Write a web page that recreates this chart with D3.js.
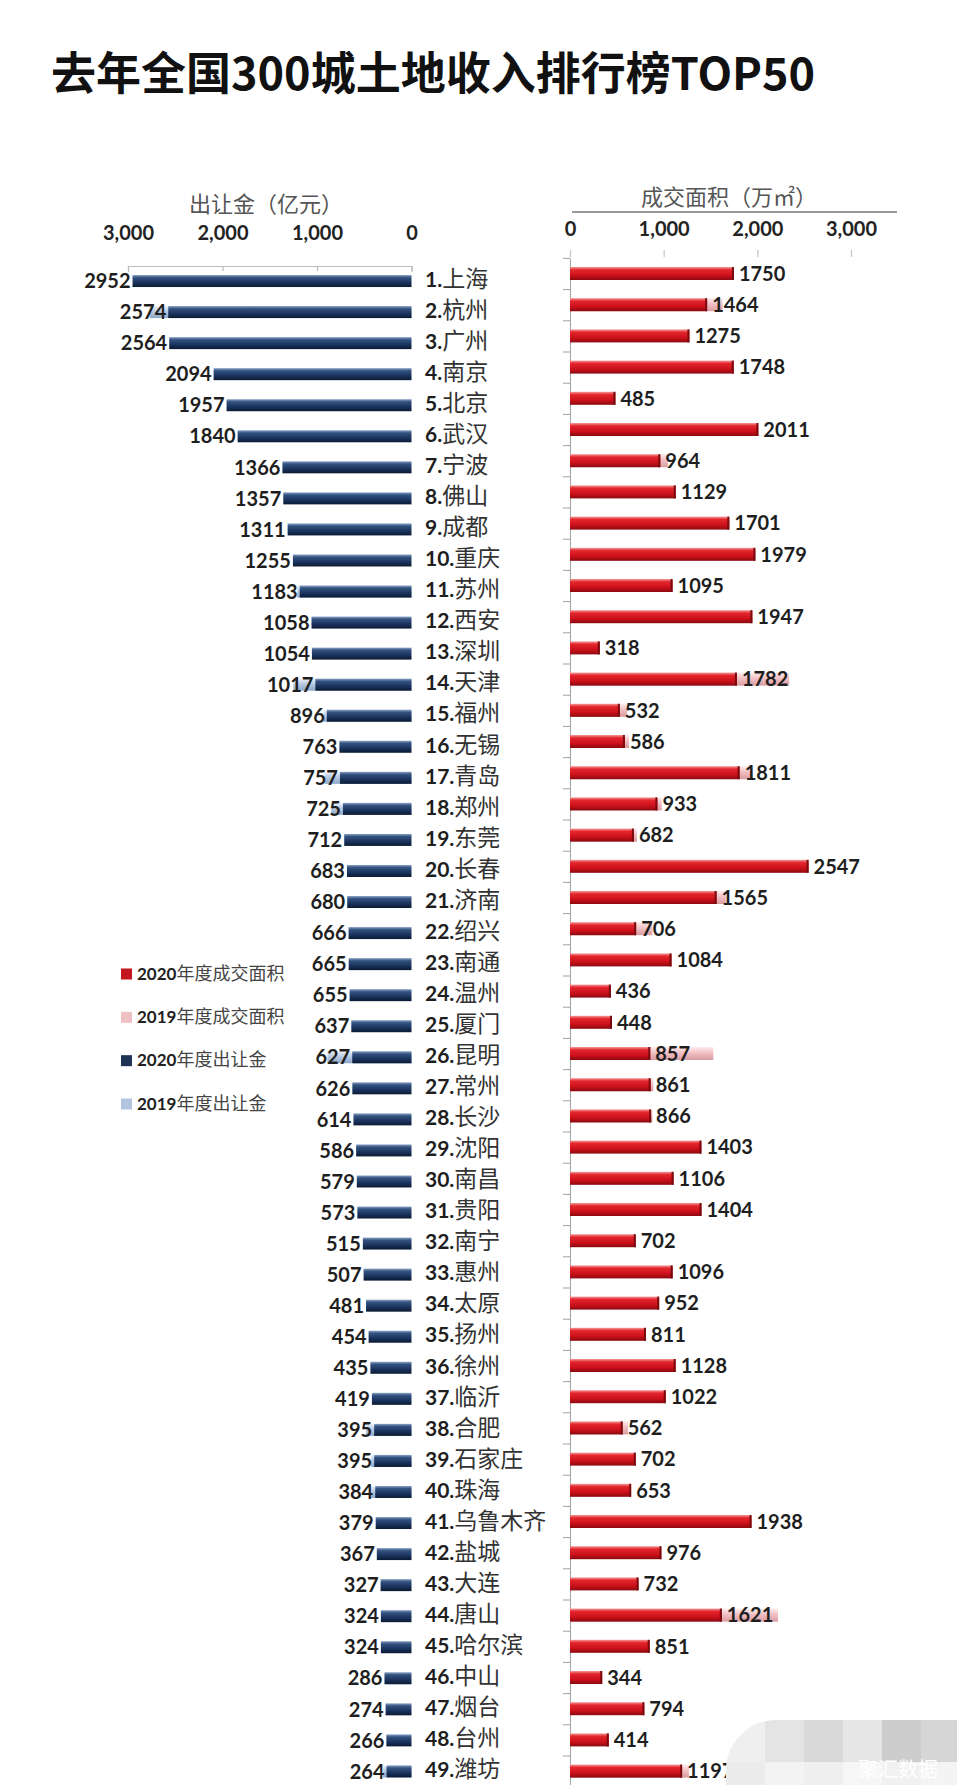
<!DOCTYPE html>
<html>
<head>
<meta charset="utf-8">
<script src="https://cdn.jsdelivr.net/npm/d3@7"></script>
<style>
  html, body { margin: 0; padding: 0; background: #fff; }
  svg { display: block; }
</style>
</head>
<body>
<svg id="chart" width="957" height="1785"></svg>
<script>
// ---------------- DATA ----------------
const cities = ["上海","杭州","广州","南京","北京","武汉","宁波","佛山","成都","重庆",
  "苏州","西安","深圳","天津","福州","无锡","青岛","郑州","东莞","长春",
  "济南","绍兴","南通","温州","厦门","昆明","常州","长沙","沈阳","南昌",
  "贵阳","南宁","惠州","太原","扬州","徐州","临沂","合肥","石家庄","珠海",
  "乌鲁木齐","盐城","大连","唐山","哈尔滨","中山","烟台","台州","潍坊"];

// 出让金 (亿元) 2020
const revenue2020 = [2952,2574,2564,2094,1957,1840,1366,1357,1311,1255,
  1183,1058,1054,1017,896,763,757,725,712,683,
  680,666,665,655,637,627,626,614,586,579,
  573,515,507,481,454,435,419,395,395,384,
  379,367,327,324,324,286,274,266,264];

// 出让金 (亿元) 2019 — only where visible behind the 2020 bar
const revenue2019 = [null,2770,null,null,null,null,null,null,null,null,
  1210,null,null,1250,930,null,920,850,null,null,
  null,null,null,null,null,890,null,null,null,null,
  null,null,null,null,null,null,null,480,430,450,
  null,null,null,null,null,null,null,null,300];

// 成交面积 (万㎡) 2020
const area2020 = [1750,1464,1275,1748,485,2011,964,1129,1701,1979,
  1095,1947,318,1782,532,586,1811,933,682,2547,
  1565,706,1084,436,448,857,861,866,1403,1106,
  1404,702,1096,952,811,1128,1022,562,702,653,
  1938,976,732,1621,851,344,794,414,1197];

// 成交面积 (万㎡) 2019 — only where visible beyond the 2020 bar
const area2019 = [null,1630,null,null,null,null,1045,null,null,null,
  null,null,null,2340,610,630,1950,980,715,null,
  1670,880,null,null,null,1530,890,880,null,null,
  null,null,null,null,null,null,null,620,null,null,
  null,null,null,2220,null,null,null,null,1270];

const axisTicks = [0, 1000, 2000, 3000];
const legendLabels = [
  {num: "2020", txt: "年度成交面积", key: "red"},
  {num: "2019", txt: "年度成交面积", key: "pink"},
  {num: "2020", txt: "年度出让金", key: "navy"},
  {num: "2019", txt: "年度出让金", key: "lblue"}
];
const titleText = "去年全国300城土地收入排行榜TOP50";
const leftAxisTitle = "出让金（亿元）";
const rightAxisTitle = "成交面积（万㎡）";
const watermarkText = "聚汇数据";

// ---------------- DRAW ----------------
const svg = d3.select("#chart");
const numFont = "Lato, 'Liberation Sans', sans-serif";
const cjkFont = "'Noto Sans CJK SC', sans-serif";

const defs = svg.append("defs");
function grad(id, stops) {
  const g = defs.append("linearGradient").attr("id", id)
    .attr("x1", 0).attr("y1", 0).attr("x2", 0).attr("y2", 1);
  stops.forEach(s => g.append("stop").attr("offset", s[0]).attr("stop-color", s[1]));
}
grad("navy", [["0%","#8aa3c6"],["22%","#34527f"],["60%","#1b3560"],["100%","#0b1a33"]]);
grad("lblue", [["0%","#eef3fa"],["40%","#bccde4"],["100%","#8ea6c8"]]);
grad("red", [["0%","#f59a9a"],["22%","#e3262d"],["65%","#cc101a"],["100%","#8a0a10"]]);
grad("pink", [["0%","#fdeced"],["45%","#f1c0c4"],["100%","#d99ba0"]]);

const legendColors = {red: "#c3161d", pink: "#efc0c4", navy: "#1f3355", lblue: "#b4c6df"};

// Title
svg.append("text")
  .attr("x", 51).attr("y", 90)
  .attr("font-family", cjkFont).attr("font-weight", 700)
  .attr("font-size", 45).attr("fill", "#111")
  .text(titleText);

// Scales
const n = cities.length;
const xL = d3.scaleLinear().domain([0, 3000]).range([411.5, 128]);
const xR = d3.scaleLinear().domain([0, 3000]).range([570, 851]);
const yL = d3.scaleBand().domain(d3.range(n)).range([265.5, 265.5 + n * 31.05]);
const yR = d3.scaleBand().domain(d3.range(n)).range([257.9, 257.9 + n * 31.2]);
const hL = 12, hR = 13;

// ---------- Left axis ----------
svg.append("text")
  .attr("x", 266).attr("y", 212)
  .attr("text-anchor", "middle")
  .attr("font-family", cjkFont).attr("font-size", 22).attr("fill", "#555")
  .text(leftAxisTitle);

const leftLabelAxis = svg.append("g")
  .attr("transform", "translate(0,266)")
  .call(d3.axisTop(xL).tickValues(axisTicks).tickSize(0).tickPadding(26)
    .tickFormat(d3.format(",")));
leftLabelAxis.select(".domain").remove();
leftLabelAxis.selectAll("text")
  .attr("font-family", numFont).attr("font-weight", 700)
  .attr("font-size", 20).attr("fill", "#222");

const leftTickAxis = svg.append("g")
  .attr("transform", "translate(0,266)")
  .call(d3.axisBottom(xL).tickValues(axisTicks).tickSize(5).tickSizeOuter(6).tickFormat(""));
leftTickAxis.selectAll("path,line").attr("stroke", "#bdbdbd").attr("stroke-width", 1.2);

// Left bars
const gL = svg.append("g");
const ghostL = revenue2019.map((v, i) => ({v, i})).filter(d => d.v != null);
gL.selectAll("rect.ghost").data(ghostL).join("rect")
  .attr("class", "ghost")
  .attr("x", d => xL(d.v))
  .attr("y", d => yL(d.i) + (yL.bandwidth() - hL) / 2)
  .attr("width", d => xL(0) - xL(d.v))
  .attr("height", hL)
  .attr("fill", "url(#lblue)");
gL.selectAll("rect.bar").data(revenue2020).join("rect")
  .attr("class", "bar")
  .attr("x", d => xL(d))
  .attr("y", (d, i) => yL(i) + (yL.bandwidth() - hL) / 2)
  .attr("width", d => xL(0) - xL(d))
  .attr("height", hL)
  .attr("fill", "url(#navy)");
gL.selectAll("text.val").data(revenue2020).join("text")
  .attr("class", "val")
  .attr("x", d => xL(d) - 2)
  .attr("y", (d, i) => yL(i) + yL.bandwidth() / 2)
  .attr("dy", "0.36em")
  .attr("text-anchor", "end")
  .attr("font-family", numFont).attr("font-weight", 700)
  .attr("font-size", 20).attr("fill", "#1e1e1e")
  .text(d => d);

// City labels
const lab = svg.append("g").selectAll("text").data(cities).join("text")
  .attr("x", 425)
  .attr("y", (d, i) => yL(i) + yL.bandwidth() / 2)
  .attr("dy", "0.36em");
lab.append("tspan")
  .attr("font-family", numFont).attr("font-weight", 700)
  .attr("font-size", 21).attr("fill", "#1e1e1e")
  .text((d, i) => (i + 1) + ".");
lab.append("tspan")
  .attr("font-family", cjkFont).attr("font-weight", 400)
  .attr("font-size", 23).attr("fill", "#333")
  .text(d => d);

// ---------- Right axis ----------
svg.append("text")
  .attr("x", 729).attr("y", 205)
  .attr("text-anchor", "middle")
  .attr("font-family", cjkFont).attr("font-size", 22).attr("fill", "#555")
  .text(rightAxisTitle);
svg.append("line")
  .attr("x1", 572).attr("x2", 897).attr("y1", 212).attr("y2", 212)
  .attr("stroke", "#777").attr("stroke-width", 1.6);

const rightLabelAxis = svg.append("g")
  .attr("transform", "translate(0,236)")
  .call(d3.axisTop(xR).tickValues(axisTicks).tickSize(0).tickPadding(0)
    .tickFormat(d3.format(",")));
rightLabelAxis.select(".domain").remove();
rightLabelAxis.selectAll("text")
  .attr("font-family", numFont).attr("font-weight", 700)
  .attr("font-size", 20).attr("fill", "#222");

const rightTickAxis = svg.append("g")
  .attr("transform", "translate(0,250)")
  .call(d3.axisBottom(xR).tickValues(axisTicks).tickSize(7).tickSizeOuter(0).tickFormat(""));
rightTickAxis.select(".domain").remove();
rightTickAxis.selectAll("line").attr("stroke", "#c4c4c4").attr("stroke-width", 1.2);

// vertical axis with category boundary ticks
const yRTicks = d3.scaleLinear().domain([0, n]).range(yR.range());
const vAxis = svg.append("g")
  .attr("transform", "translate(570,0)")
  .call(d3.axisLeft(yRTicks).tickValues(d3.range(n + 1)).tickSize(7).tickSizeOuter(0).tickFormat(""));
vAxis.selectAll("path,line").attr("stroke", "#a8a8a8").attr("stroke-width", 1.1);

// Right bars
const gR = svg.append("g");
const ghostR = area2019.map((v, i) => ({v, i})).filter(d => d.v != null);
gR.selectAll("rect.ghost").data(ghostR).join("rect")
  .attr("class", "ghost")
  .attr("x", xR(0))
  .attr("y", d => yR(d.i) + (yR.bandwidth() - hR) / 2)
  .attr("width", d => xR(d.v) - xR(0))
  .attr("height", hR)
  .attr("fill", "url(#pink)");
gR.selectAll("rect.bar").data(area2020).join("rect")
  .attr("class", "bar")
  .attr("x", xR(0))
  .attr("y", (d, i) => yR(i) + (yR.bandwidth() - hR) / 2)
  .attr("width", d => xR(d) - xR(0))
  .attr("height", hR)
  .attr("fill", "url(#red)");
gR.selectAll("line.end").data(area2020).join("line")
  .attr("class", "end")
  .attr("x1", d => xR(d) - 1).attr("x2", d => xR(d) - 1)
  .attr("y1", (d, i) => yR(i) + (yR.bandwidth() - hR) / 2)
  .attr("y2", (d, i) => yR(i) + (yR.bandwidth() + hR) / 2)
  .attr("stroke", "#7a0a0e").attr("stroke-width", 2);
gR.selectAll("text.val").data(area2020).join("text")
  .attr("class", "val")
  .attr("x", d => xR(d) + 5)
  .attr("y", (d, i) => yR(i) + yR.bandwidth() / 2)
  .attr("dy", "0.36em")
  .attr("font-family", numFont).attr("font-weight", 700)
  .attr("font-size", 20).attr("fill", "#1e1e1e")
  .text(d => d);

// ---------- Legend ----------
const legendY = d3.scaleLinear().domain([0, 3]).range([974, 1104]);
const lg = svg.append("g").selectAll("g").data(legendLabels).join("g")
  .attr("transform", (d, i) => `translate(121,${legendY(i)})`);
lg.append("rect")
  .attr("x", 0).attr("y", -5.5).attr("width", 11).attr("height", 11)
  .attr("fill", d => legendColors[d.key]);
const lt = lg.append("text").attr("x", 16).attr("y", 0).attr("dy", "0.36em");
lt.append("tspan")
  .attr("font-family", numFont).attr("font-weight", 700)
  .attr("font-size", 17).attr("fill", "#222")
  .text(d => d.num);
lt.append("tspan")
  .attr("font-family", cjkFont).attr("font-size", 18).attr("fill", "#444")
  .text(d => d.txt);

// ---------- Watermark (pixelated badge) ----------
const wmShades = [["#efefef","#e4e4e4","#d9d9d9","#e6e6e6","#cdcdcd","#d6d6d6"],
                  ["#ececec","#f3f3f3","#efefef","#f6f6f6","#f1f1f1","#f4f4f4"]];
const clip = defs.append("clipPath").attr("id", "wmclip");
clip.append("rect").attr("x", 726).attr("y", 1720).attr("width", 300).attr("height", 120).attr("rx", 50);
const wm = svg.append("g").attr("clip-path", "url(#wmclip)");
wmShades.forEach((row, r) => {
  wm.selectAll(null).data(row).join("rect")
    .attr("x", (d, c) => 726 + c * 39)
    .attr("y", 1720 + r * 42)
    .attr("width", 39).attr("height", 42)
    .attr("fill", d => d);
});
svg.append("text")
  .attr("x", 858).attr("y", 1777)
  .attr("font-family", cjkFont).attr("font-size", 20).attr("fill", "#ffffff")
  .text(watermarkText);
</script>
</body>
</html>
